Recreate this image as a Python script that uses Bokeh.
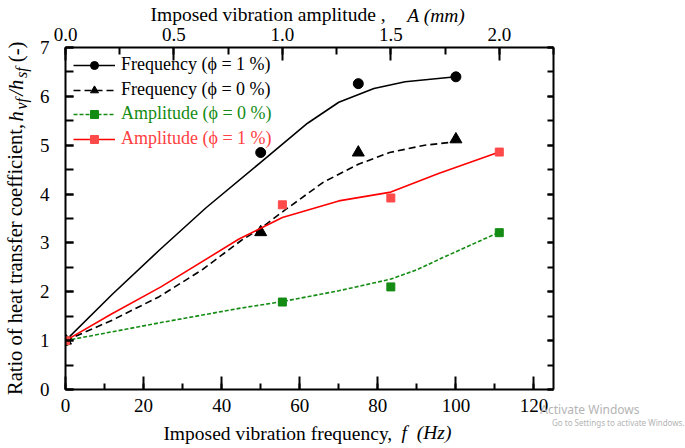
from bokeh.plotting import figure
from bokeh.models import (Range1d, LinearAxis, SingleIntervalTicker, PrintfTickFormatter, FixedTicker,
                          CustomJSTickFormatter, Legend, LegendItem, Title)
from bokeh.embed import file_html
from bokeh.resources import INLINE

# ---- measured points ----
freq_hz = [0, 50, 75, 100]
freq_phi1 = [1.0, 4.85, 6.26, 6.40]
freq_phi0 = [1.0, 3.22, 4.85, 5.12]

amp_mm = [0, 1.0, 1.5, 2.0]
amp_phi0 = [1.0, 1.79, 2.10, 3.21]
amp_phi1 = [1.0, 3.78, 3.92, 4.86]

# ---- fitted trend curves ----
fit_f1_x = [0, 12, 24, 36, 50, 62, 70, 79, 87, 100]
fit_f1_y = [1.0, 1.95, 2.85, 3.72, 4.65, 5.45, 5.88, 6.16, 6.30, 6.40]
fit_f0_x = [0, 12, 24, 35, 45, 50, 56, 66, 75, 83, 92, 100]
fit_f0_y = [1.0, 1.42, 1.90, 2.45, 3.05, 3.30, 3.66, 4.24, 4.61, 4.85, 5.00, 5.07]
fit_a0_x = [0, 0.44, 0.80, 1.0, 1.26, 1.5, 1.62, 1.74, 2.0]
fit_a0_y = [1.0, 1.37, 1.66, 1.80, 2.02, 2.26, 2.45, 2.70, 3.22]
fit_a1_x = [0, 0.21, 0.44, 0.80, 0.90, 1.0, 1.26, 1.5, 1.72, 2.0]
fit_a1_y = [1.0, 1.54, 2.10, 3.08, 3.30, 3.52, 3.86, 4.04, 4.42, 4.86]

SERIF = "Liberation Serif"
GREEN = "#148c14"
RED = "#ff0000"
RED_M = "#ff4a4a"
NB = "\u00a0"

p = figure(width=685, height=448, output_backend="svg", toolbar_location=None,
           x_range=Range1d(0, 125), y_range=Range1d(0, 7),
           x_axis_location=None, y_axis_location=None,
           min_border_left=65, min_border_right=132, min_border_top=47, min_border_bottom=59)
p.extra_x_ranges = {"amp": Range1d(0, 2.25)}
p.grid.visible = False
p.outline_line_color = None
p.background_fill_color = "white"
p.border_fill_color = "white"


def style(ax, maj, mnr, standoff):
    ax.axis_line_width = 2
    ax.axis_line_color = "black"
    ax.major_tick_in = maj
    ax.major_tick_out = 0
    ax.minor_tick_in = mnr
    ax.minor_tick_out = 0
    ax.major_tick_line_width = 2
    ax.minor_tick_line_width = 2
    ax.major_label_text_font = SERIF
    ax.major_label_text_font_size = "19px"
    ax.major_label_text_color = "black"
    ax.major_label_standoff = standoff


def set_label(ax, text, size, fstyle, standoff, color="black", font=SERIF):
    ax.axis_label = text
    ax.axis_label_standoff = standoff
    ax.axis_label_text_font = font
    ax.axis_label_text_font_size = size
    ax.axis_label_text_font_style = fstyle
    ax.axis_label_text_color = color


def text_axis(side, text, size, fstyle, standoff, color="black", font=SERIF):
    ax = LinearAxis(ticker=FixedTicker(ticks=[]), axis_line_color=None,
                    major_tick_line_color=None, minor_tick_line_color=None,
                    major_tick_out=0, major_tick_in=0, minor_tick_out=0, minor_tick_in=0,
                    major_label_standoff=0)
    set_label(ax, text, size, fstyle, standoff, color, font)
    p.add_layout(ax, side)


# bottom: frequency axis
xb = LinearAxis(ticker=SingleIntervalTicker(interval=20, num_minor_ticks=2))
style(xb, 13, 6, 9)
set_label(xb, "Imposed vibration frequency," + NB * 13, "19.5px", "normal", 8)
p.add_layout(xb, "below")
text_axis("below", NB * 48 + "f" + NB + " (Hz)", "19.5px", "italic", -25)

# top: amplitude axis
xt = LinearAxis(x_range_name="amp", ticker=SingleIntervalTicker(interval=0.5, num_minor_ticks=2),
                formatter=PrintfTickFormatter(format="%.1f"))
style(xt, 13, 7, 7)
set_label(xt, "Imposed vibration amplitude ," + NB * 17, "19.5px", "normal", 0)
p.add_layout(xt, "above")
text_axis("above", NB * 52 + "A (mm)", "19.5px", "italic", -25)

# left: ratio axis
yl = LinearAxis(ticker=SingleIntervalTicker(interval=1, num_minor_ticks=2))
style(yl, 8, 8, 16)
set_label(yl, "Ratio of heat transfer coefficient," + NB * 16, "20.5px", "normal", 11)
p.add_layout(yl, "left")
text_axis("left", NB * 46 + "h" + NB * 3 + "/h", "20.5px", "italic", -26)
text_axis("left", NB * 65 + "(-)", "20.5px", "normal", -26)
text_axis("left", NB * 65 + "vf" + NB * 5 + "sf", "16px", "italic", -29)

# right: plain frame side with ticks
yr = LinearAxis(ticker=SingleIntervalTicker(interval=1, num_minor_ticks=2),
                formatter=CustomJSTickFormatter(code="return ''"))
style(yr, 6, 6, 0)
p.add_layout(yr, "right")

# screenshot watermark seen in the reference
for txt, fs, off, so in [("Go to Settings to activate Windows.", "8px", -131, -59),
                         ("Activate Windows", "12px", -86, -91)]:
    p.add_layout(Title(text=txt, align="right", offset=off, vertical_align="top", standoff=so,
                       text_font="Noto Sans", text_font_size=fs, text_font_style="normal",
                       text_color="#b4b4b4"), "below")

# ---- curves and markers ----
c1 = p.line(fit_f1_x, fit_f1_y, line_color="black", line_width=1.6)
m1 = p.scatter(freq_hz, freq_phi1, marker="circle", size=10, fill_color="black", line_color="black")
c2 = p.line(fit_f0_x, fit_f0_y, line_color="black", line_width=1.6, line_dash="7 4")
m2 = p.scatter(freq_hz, freq_phi0, marker="triangle", size=12, fill_color="black", line_color="black")
c3 = p.line(fit_a0_x, fit_a0_y, x_range_name="amp", line_color=GREEN, line_width=1.6, line_dash="4 2")
m3 = p.scatter(amp_mm, amp_phi0, x_range_name="amp", marker="square", size=8, fill_color=GREEN, line_color=GREEN)
c4 = p.line(fit_a1_x, fit_a1_y, x_range_name="amp", line_color=RED, line_width=1.6)
m4 = p.scatter(amp_mm, amp_phi1, x_range_name="amp", marker="square", size=8, fill_color=RED_M, line_color=RED_M)

entries = [("Frequency (ϕ = 1 %)", [c1, m1], "black", 314),
           ("Frequency (ϕ = 0 %)", [c2, m2], "black", 289),
           ("Amplitude (ϕ = 0 %)", [c3, m3], GREEN, 265),
           ("Amplitude (ϕ = 1 %)", [c4, m4], "#ff4040", 240)]
for lab, rends, col, yy in entries:
    lg = Legend(items=[LegendItem(label=lab, renderers=rends)], location=(8, yy),
                glyph_width=42, glyph_height=20, label_height=20, label_standoff=6,
                padding=0, margin=0, border_line_color=None, background_fill_alpha=0,
                label_text_font=SERIF, label_text_font_size="18px", label_text_color=col)
    p.add_layout(lg, "center")

open("out.html", "w").write(file_html(p, INLINE))
